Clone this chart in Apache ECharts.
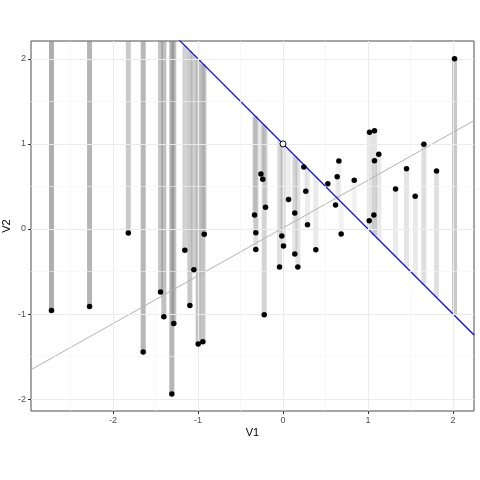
<!DOCTYPE html>
<html><head><meta charset="utf-8">
<script src="https://cdn.jsdelivr.net/npm/echarts@6/dist/echarts.min.js"></script>
<style>html,body{margin:0;padding:0;background:#fff}#c{width:480px;height:480px}</style>
</head><body><div id="c"></div>
<script>
const xVals = [-2.724,-2.276,-1.82,-1.645,-1.441,-1.402,-1.285,-1.308,-1.155,-1.049,-1.096,-0.927,-0.998,-0.943,-0.32,-0.32,-0.221,-0.014,0.006,-0.041,0.139,0.174,0.386,0.288,-0.26,-0.238,0.245,0.268,0.065,-0.206,-0.335,0.139,0.527,0.657,0.637,0.618,0.684,0.838,1.018,1.076,1.076,1.127,1.069,1.014,1.324,1.453,1.555,1.657,1.806,2.018];
const yVals = [-0.958,-0.91,-0.047,-1.447,-0.741,-1.032,-1.11,-1.94,-0.25,-0.48,-0.9,-0.063,-1.353,-1.326,-0.044,-0.24,-1.008,-0.082,-0.2,-0.447,-0.294,-0.447,-0.244,0.05,0.647,0.584,0.73,0.443,0.348,0.254,0.165,0.188,0.533,0.8,0.615,0.282,-0.059,0.572,1.137,1.156,0.803,0.878,0.165,0.098,0.47,0.709,0.384,0.995,0.682,2.0];
const openPoint = [0, 1];
const blueLine = {intercept: 1, slope: -1};
const fitLine = {intercept: 0.012, slope: 0.562};
const xTicks = [-2, -1, 0, 1, 2];
const yTicks = [-2, -1, 0, 1, 2];
const xMinor = [-2.5, -1.5, -0.5, 0.5, 1.5];
const yMinor = [-1.5, -0.5, 0.5, 1.5];
const xRange = [-2.965, 2.247];
const yRange = [-2.14, 2.21];

const pts = xVals.map((x, i) => [x, yVals[i]]);
const segs = pts.map(p => {
  const yl = blueLine.intercept + blueLine.slope * p[0];
  return [p[0], p[1], yl, Math.abs(yl - p[1])];
});
const maxLen = Math.max(...segs.map(s => s[3]));
const lineEnds = l => xRange.map(x => [x, l.intercept + l.slope * x]);

const gridLines = [];
xTicks.forEach(v => gridLines.push({xAxis: v, lineStyle: {color: '#ebebeb', width: 1.1, type: 'solid'}}));
yTicks.forEach(v => gridLines.push({yAxis: v, lineStyle: {color: '#ebebeb', width: 1.1, type: 'solid'}}));
xMinor.forEach(v => gridLines.push({xAxis: v, lineStyle: {color: '#f3f3f3', width: 0.6, type: 'solid'}}));
yMinor.forEach(v => gridLines.push({yAxis: v, lineStyle: {color: '#f3f3f3', width: 0.6, type: 'solid'}}));

const axisCommon = {
  type: 'value', splitLine: {show: false},
  axisLine: {show: false, onZero: false},
  axisTick: {show: true, length: 3, lineStyle: {color: '#333'}},
  axisLabel: {color: '#4d4d4d', fontSize: 9, fontFamily: 'Liberation Sans, Arial, sans-serif'},
  nameTextStyle: {color: '#000', fontSize: 11, fontFamily: 'Liberation Sans, Arial, sans-serif'},
  nameLocation: 'middle', nameMoveOverlap: false
};

const chart = echarts.init(document.getElementById('c'), null, {renderer: 'canvas'});
chart.setOption({
  animation: false,
  grid: {left: 31, right: 6, top: 41, bottom: 69, show: true, borderColor: '#4d4d4d', borderWidth: 1,
         backgroundColor: '#fff', containLabel: false, outerBoundsMode: 'none'},
  xAxis: Object.assign({}, axisCommon, {
    min: xRange[0], max: xRange[1], name: 'V1', nameGap: 16,
    axisTick: Object.assign({}, axisCommon.axisTick, {customValues: xTicks}),
    axisLabel: Object.assign({}, axisCommon.axisLabel, {customValues: xTicks, margin: 5})
  }),
  yAxis: Object.assign({}, axisCommon, {
    min: yRange[0], max: yRange[1], name: 'V2', nameGap: 19,
    axisTick: Object.assign({}, axisCommon.axisTick, {customValues: yTicks}),
    axisLabel: Object.assign({}, axisCommon.axisLabel, {customValues: yTicks, margin: 5})
  }),
  series: [
    {type: 'line', data: [], silent: true,
     markLine: {silent: true, symbol: 'none', label: {show: false}, animation: false, data: gridLines}},
    {type: 'custom', clip: true, silent: true, data: segs, z: 3,
     renderItem: (params, api) => {
       const a = api.coord([api.value(0), api.value(1)]);
       const b = api.coord([api.value(0), api.value(2)]);
       const op = 0.06 + 0.58 * api.value(3) / maxLen;
       return {type: 'line', shape: {x1: a[0], y1: a[1], x2: b[0], y2: b[1]},
               style: {stroke: 'rgba(128,128,128,' + op + ')', lineWidth: 5}};
     }},
    {type: 'line', data: lineEnds(fitLine), symbol: 'none', z: 4, silent: true,
     lineStyle: {color: '#b3b3b3', width: 1}},
    {type: 'line', data: lineEnds(blueLine), symbol: 'none', z: 4, silent: true, clip: true,
     lineStyle: {color: '#0000ff', width: 1.2}},
    {type: 'scatter', data: pts, symbol: 'circle', symbolSize: 5.5, z: 5, silent: true,
     itemStyle: {color: '#000', opacity: 1}},
    {type: 'scatter', data: [openPoint], symbol: 'circle', symbolSize: 6, z: 6, silent: true,
     itemStyle: {color: '#fff', borderColor: '#000', borderWidth: 1, opacity: 1}}
  ]
});
</script></body></html>
